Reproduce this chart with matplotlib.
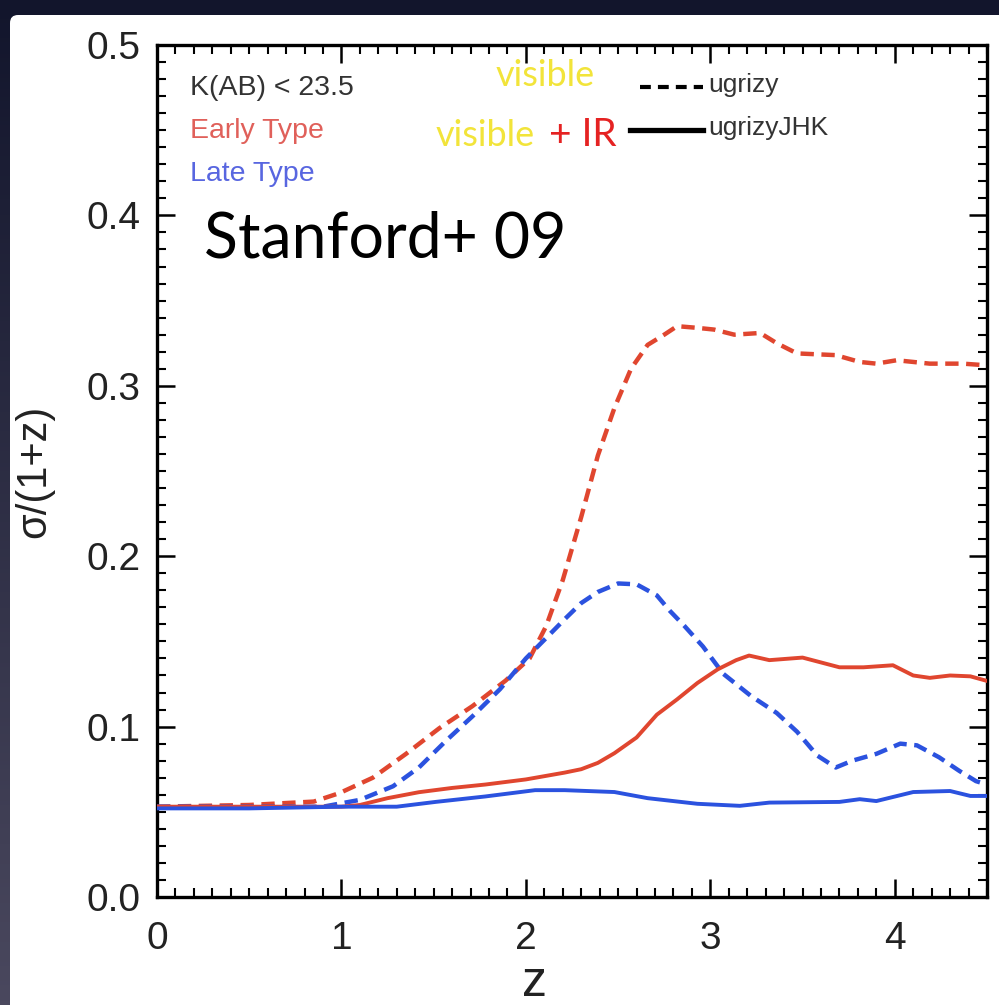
import matplotlib
matplotlib.use("Agg")
import matplotlib.pyplot as plt
import numpy as np
from matplotlib import font_manager
from matplotlib.patches import FancyBboxPatch
from matplotlib.lines import Line2D

# ---------------- data ----------------
z_early_vis = [0, 0.5, 0.85, 0.99, 1.17, 1.35, 1.53, 1.71, 1.89, 2.02, 2.11, 2.2, 2.3, 2.39,
               2.48, 2.57, 2.66, 2.75, 2.82, 2.93, 3.02, 3.13, 3.27, 3.36, 3.47, 3.68, 3.81,
               3.90, 4.01, 4.19, 4.37, 4.5]
sig_early_vis = [0.053, 0.054, 0.056, 0.061, 0.070, 0.084, 0.099, 0.112, 0.127, 0.140, 0.159,
                 0.186, 0.223, 0.259, 0.287, 0.310, 0.324, 0.330, 0.335, 0.334, 0.333, 0.330,
                 0.331, 0.325, 0.319, 0.318, 0.314, 0.313, 0.315, 0.313, 0.313, 0.312]

z_late_vis = [0, 0.9, 1.1, 1.28, 1.42, 1.57, 1.71, 1.86, 2.0, 2.11, 2.21, 2.30, 2.39, 2.50,
              2.60, 2.71, 2.78, 2.86, 2.96, 3.07, 3.22, 3.36, 3.47, 3.58, 3.68, 3.77, 3.90,
              4.03, 4.12, 4.24, 4.35, 4.44, 4.5]
sig_late_vis = [0.053, 0.053, 0.057, 0.065, 0.076, 0.092, 0.106, 0.122, 0.140, 0.152, 0.163,
                0.1725, 0.179, 0.184, 0.1835, 0.177, 0.168, 0.159, 0.147, 0.131, 0.118, 0.108,
                0.097, 0.083, 0.076, 0.080, 0.084, 0.090, 0.089, 0.082, 0.074, 0.068, 0.066]

z_early_ir = [0, 1.0, 1.1, 1.25, 1.42, 1.6, 1.78, 2.0, 2.21, 2.30, 2.39, 2.48, 2.60, 2.71,
              2.82, 2.93, 3.04, 3.14, 3.21, 3.32, 3.50, 3.70, 3.83, 3.99, 4.10, 4.19, 4.30,
              4.41, 4.5]
sig_early_ir = [0.053, 0.053, 0.054, 0.058, 0.0615, 0.064, 0.066, 0.069, 0.073, 0.075, 0.0787,
                0.0844, 0.0936, 0.107, 0.116, 0.1256, 0.1336, 0.139, 0.1417, 0.139, 0.1405,
                0.1348, 0.1348, 0.136, 0.130, 0.1286, 0.130, 0.1295, 0.1268]

z_late_ir = [0, 0.5, 1.0, 1.3, 1.51, 1.78, 2.05, 2.21, 2.48, 2.66, 2.93, 3.16, 3.32, 3.70,
             3.81, 3.90, 4.10, 4.30, 4.41, 4.5]
sig_late_ir = [0.052, 0.052, 0.053, 0.053, 0.0558, 0.059, 0.0627, 0.0627, 0.0616, 0.058,
               0.0547, 0.0535, 0.0554, 0.0558, 0.0574, 0.0563, 0.0616, 0.0622, 0.0593, 0.0593]

x_ticks = [0, 1, 2, 3, 4]
y_ticks = [0.0, 0.1, 0.2, 0.3, 0.4, 0.5]
y_ticklabels = ["0.0", "0.1", "0.2", "0.3", "0.4", "0.5"]

# ---------------- fonts ----------------
names = {f.name for f in font_manager.fontManager.ttflist}
regular = "Liberation Sans"
humanist = "Lato" if "Lato" in names else "DejaVu Sans"

RED = "#e0462f"
BLUE = "#2b52df"
INK = "#222222"

W, H = 999, 1005
fig = plt.figure(figsize=(W / 100, H / 100), dpi=100)
fig.patch.set_facecolor("#151830")

# dark slide background with the white figure panel
bg = fig.add_axes([0, 0, 1, 1])
bg.set_axis_off()
grad = np.linspace(0, 1, 256)[:, None]
c_top = np.array([0x12, 0x15, 0x2c]) / 255
c_bot = np.array([0x4a, 0x48, 0x5e]) / 255
img = c_top[None, None, :] * (1 - grad[:, :, None]) + c_bot[None, None, :] * grad[:, :, None]
bg.imshow(img, aspect="auto", extent=[0, 1, 0, 1], origin="upper")
bg.set_xlim(0, 1)
bg.set_ylim(0, 1)
bg.add_patch(FancyBboxPatch((10 / W, -0.05), 1.2, (H - 15) / H + 0.05,
                            boxstyle="round,pad=0,rounding_size=0.008",
                            fc="white", ec="none", transform=bg.transAxes))

ax = fig.add_axes([157 / W, (H - 897) / H, 830 / W, 852 / H])
ax.set_facecolor("none")

dash = (0, (3.0, 1.7))
ax.plot(z_early_vis, sig_early_vis, color=RED, lw=3.2, ls=dash, zorder=3)
ax.plot(z_late_vis, sig_late_vis, color=BLUE, lw=3.2, ls=dash, zorder=3)
ax.plot(z_early_ir, sig_early_ir, color=RED, lw=2.8, zorder=3)
ax.plot(z_late_ir, sig_late_ir, color=BLUE, lw=2.8, zorder=3)

ax.set_xlim(0, 4.5)
ax.set_ylim(0, 0.5)
ax.set_xticks(x_ticks)
ax.set_xticklabels([str(t) for t in x_ticks])
ax.set_yticks(y_ticks)
ax.set_yticklabels(y_ticklabels)
ax.set_xticks(np.arange(0, 4.5001, 0.1), minor=True)
ax.set_yticks(np.arange(0, 0.5001, 0.01), minor=True)
ax.tick_params(which="both", direction="in", top=True, right=True, color="black")
ax.tick_params(which="major", length=13, width=1.8)
ax.tick_params(which="minor", length=6.5, width=1.5)
ax.tick_params(axis="y", which="major", pad=12)
ax.tick_params(axis="x", which="major", pad=17)
for lab in ax.get_xticklabels() + ax.get_yticklabels():
    lab.set_fontfamily(regular)
    lab.set_fontsize(28)
    lab.set_color(INK)
for s in ax.spines.values():
    s.set_linewidth(2.4)

# axis titles
fig.text(535 / W, 1 - 983 / H, "z", fontfamily=regular, fontsize=36, color=INK,
         ha="center", va="center")
fig.text(34 / W, 1 - 471 / H, "σ/(1+z)", fontfamily=regular, fontsize=30, color=INK,
         ha="center", va="center", rotation=90)


def axpos(px, py):
    return ((px - 157) / 830, (897 - py) / 852)


tr = ax.transAxes
x, y = axpos(190, 88)
ax.text(x, y, "K(AB) < 23.5", transform=tr, fontfamily=regular, fontsize=20.5,
        color="#333333", ha="left", va="center")
x, y = axpos(190, 131)
ax.text(x, y, "Early Type", transform=tr, fontfamily=regular, fontsize=20.5,
        color="#e0605a", ha="left", va="center")
x, y = axpos(190, 174)
ax.text(x, y, "Late Type", transform=tr, fontfamily=regular, fontsize=20.5,
        color="#5866e0", ha="left", va="center")

x, y = axpos(545, 76)
ax.text(x, y, "visible", transform=tr, fontfamily=humanist, fontsize=26,
        color="#f2e43a", ha="center", va="center")
x, y = axpos(436, 135)
ax.text(x, y, "visible", transform=tr, fontfamily=humanist, fontsize=26,
        color="#f2e43a", ha="left", va="center")
x, y = axpos(549, 135)
ax.text(x, y, "+ IR", transform=tr, fontfamily=humanist, fontsize=28,
        color="#e52222", ha="left", va="center")

x0, y0 = axpos(640, 87)
x1, _ = axpos(703, 87)
ax.add_line(Line2D([x0, x1], [y0, y0], transform=tr, color="black", lw=3.0,
                   ls=(0, (2.6, 1.7))))
x, y = axpos(708, 85)
ax.text(x, y, "ugrizy", transform=tr, fontfamily=regular, fontsize=19,
        color="#333333", ha="left", va="center")
x0, y0 = axpos(630, 130)
x1, _ = axpos(703, 130)
ax.add_line(Line2D([x0, x1], [y0, y0], transform=tr, color="black", lw=3.8))
x, y = axpos(708, 128)
ax.text(x, y, "ugrizyJHK", transform=tr, fontfamily=regular, fontsize=19,
        color="#333333", ha="left", va="center")

x, y = axpos(204, 240)
ax.text(x, y, "Stanford+ 09", transform=tr, fontfamily=humanist, fontsize=45,
        color="black", ha="left", va="center")

fig.savefig("out.png", dpi=100, facecolor=fig.get_facecolor())
